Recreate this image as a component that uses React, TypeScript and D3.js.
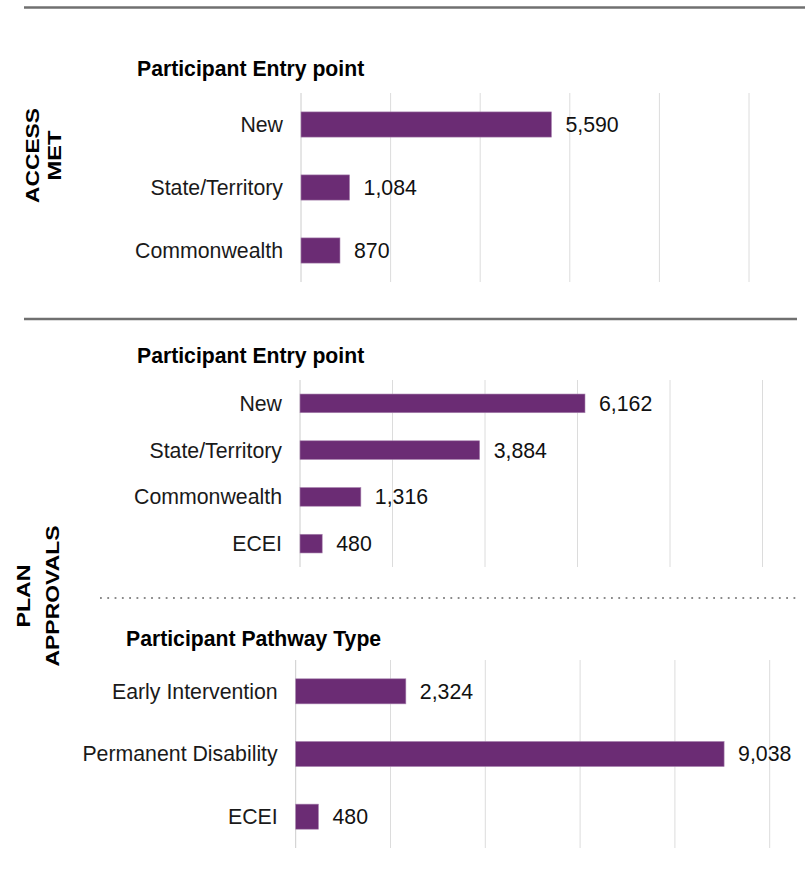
import { format, scaleBand, scaleLinear } from "d3";

const xTicks = [0, 2000, 4000, 6000, 8000, 10000];

const accessCategories = ["New", "State/Territory", "Commonwealth"];
const accessValues = [5590, 1084, 870];

const planEntryCategories = ["New", "State/Territory", "Commonwealth", "ECEI"];
const planEntryValues = [6162, 3884, 1316, 480];

const pathwayCategories = ["Early Intervention", "Permanent Disability", "ECEI"];
const pathwayValues = [2324, 9038, 480];

const sectionTitles = ["Participant Entry point", "Participant Entry point", "Participant Pathway Type"];
const accessLabel = ["ACCESS", "MET"];
const planLabel = ["PLAN", "APPROVALS"];

const width = 812;
const height = 873;
const barColor = "#6b2c74";
const font = "'Liberation Sans', Arial, Helvetica, sans-serif";
const labelSize = 21.3;
const titleSize = 21.2;
const fmt = format(",");

interface PanelProps {
  readonly title: string;
  readonly titleX: number;
  readonly titleY: number;
  readonly categories: readonly string[];
  readonly values: readonly number[];
  readonly left: number;
  readonly right: number;
  readonly top: number;
  readonly bottom: number;
}

function BarPanel({
  title,
  titleX,
  titleY,
  categories,
  values,
  left,
  right,
  top,
  bottom
}: PanelProps): React.JSX.Element {
  const x = scaleLinear().domain([0, 10000]).range([left, right]);
  const y = scaleBand<string>()
    .domain(categories as string[])
    .range([top, bottom])
    .paddingInner(0.6)
    .paddingOuter(0.3);

  return (
    <g>
      <text x={titleX} y={titleY} fontSize={titleSize} fontWeight="bold" fill="#000">
        {title}
      </text>
      {xTicks.map((tick, i) => (
        <line
          key={tick}
          x1={x(tick)}
          x2={x(tick)}
          y1={top}
          y2={bottom}
          stroke={i === 0 ? "#cccccc" : "#dcdcdc"}
          strokeWidth={1}
        />
      ))}
      {categories.map((category, i) => {
        const yPos = y(category) ?? 0;
        const mid = yPos + y.bandwidth() / 2;
        return (
          <g key={category}>
            <rect
              x={x(0)}
              y={yPos}
              width={x(values[i]) - x(0)}
              height={y.bandwidth()}
              fill={barColor}
              stroke="#a984b0"
              strokeWidth={0.6}
            />
            <text
              x={left - 18}
              y={mid}
              dy="0.35em"
              textAnchor="end"
              fontSize={labelSize}
              fill="#1a1a1a"
            >
              {category}
            </text>
            <text x={x(values[i]) + 14} y={mid} dy="0.35em" fontSize={labelSize} fill="#111">
              {fmt(values[i])}
            </text>
          </g>
        );
      })}
    </g>
  );
}

function SideLabel({
  lines,
  xs,
  cy,
  lengths
}: {
  readonly lines: readonly string[];
  readonly xs: readonly number[];
  readonly cy: number;
  readonly lengths: readonly number[];
}): React.JSX.Element {
  return (
    <g>
      {lines.map((line, i) => (
        <text
          key={line}
          transform={`translate(${xs[i]},${cy}) rotate(-90)`}
          textAnchor="middle"
          dy="0.35em"
          fontSize={18.5}
          fontWeight="bold"
          fill="#000"
          textLength={lengths[i]}
          lengthAdjust="spacingAndGlyphs"
        >
          {line}
        </text>
      ))}
    </g>
  );
}

export default function App(): React.JSX.Element {
  return (
    <div>
      <style>{"body{margin:0;}"}</style>
      <svg width={width} height={height} style={{ display: "block", fontFamily: font }}>
        <rect width={width} height={height} fill="#fff" />
        <line x1={24} x2={805} y1={7.5} y2={7.5} stroke="#707070" strokeWidth={2.5} />
        <line x1={24} x2={797} y1={319} y2={319} stroke="#707070" strokeWidth={2.5} />
        <line
          x1={100}
          x2={797}
          y1={598}
          y2={598}
          stroke="#8a8a8a"
          strokeWidth={1.8}
          strokeDasharray="1.8 5.5"
        />

        <SideLabel lines={accessLabel} xs={[32.5, 54.5]} cy={155.5} lengths={[95, 50]} />
        <SideLabel lines={planLabel} xs={[24, 52.5]} cy={596} lengths={[63, 141]} />

        <BarPanel
          title={sectionTitles[0]}
          titleX={137}
          titleY={76}
          categories={accessCategories}
          values={accessValues}
          left={301}
          right={749}
          top={93}
          bottom={282}
        />
        <BarPanel
          title={sectionTitles[1]}
          titleX={137}
          titleY={363}
          categories={planEntryCategories}
          values={planEntryValues}
          left={300}
          right={762.5}
          top={380}
          bottom={567}
        />
        <BarPanel
          title={sectionTitles[2]}
          titleX={126}
          titleY={646}
          categories={pathwayCategories}
          values={pathwayValues}
          left={295.7}
          right={769.7}
          top={660}
          bottom={848}
        />
      </svg>
    </div>
  );
}
